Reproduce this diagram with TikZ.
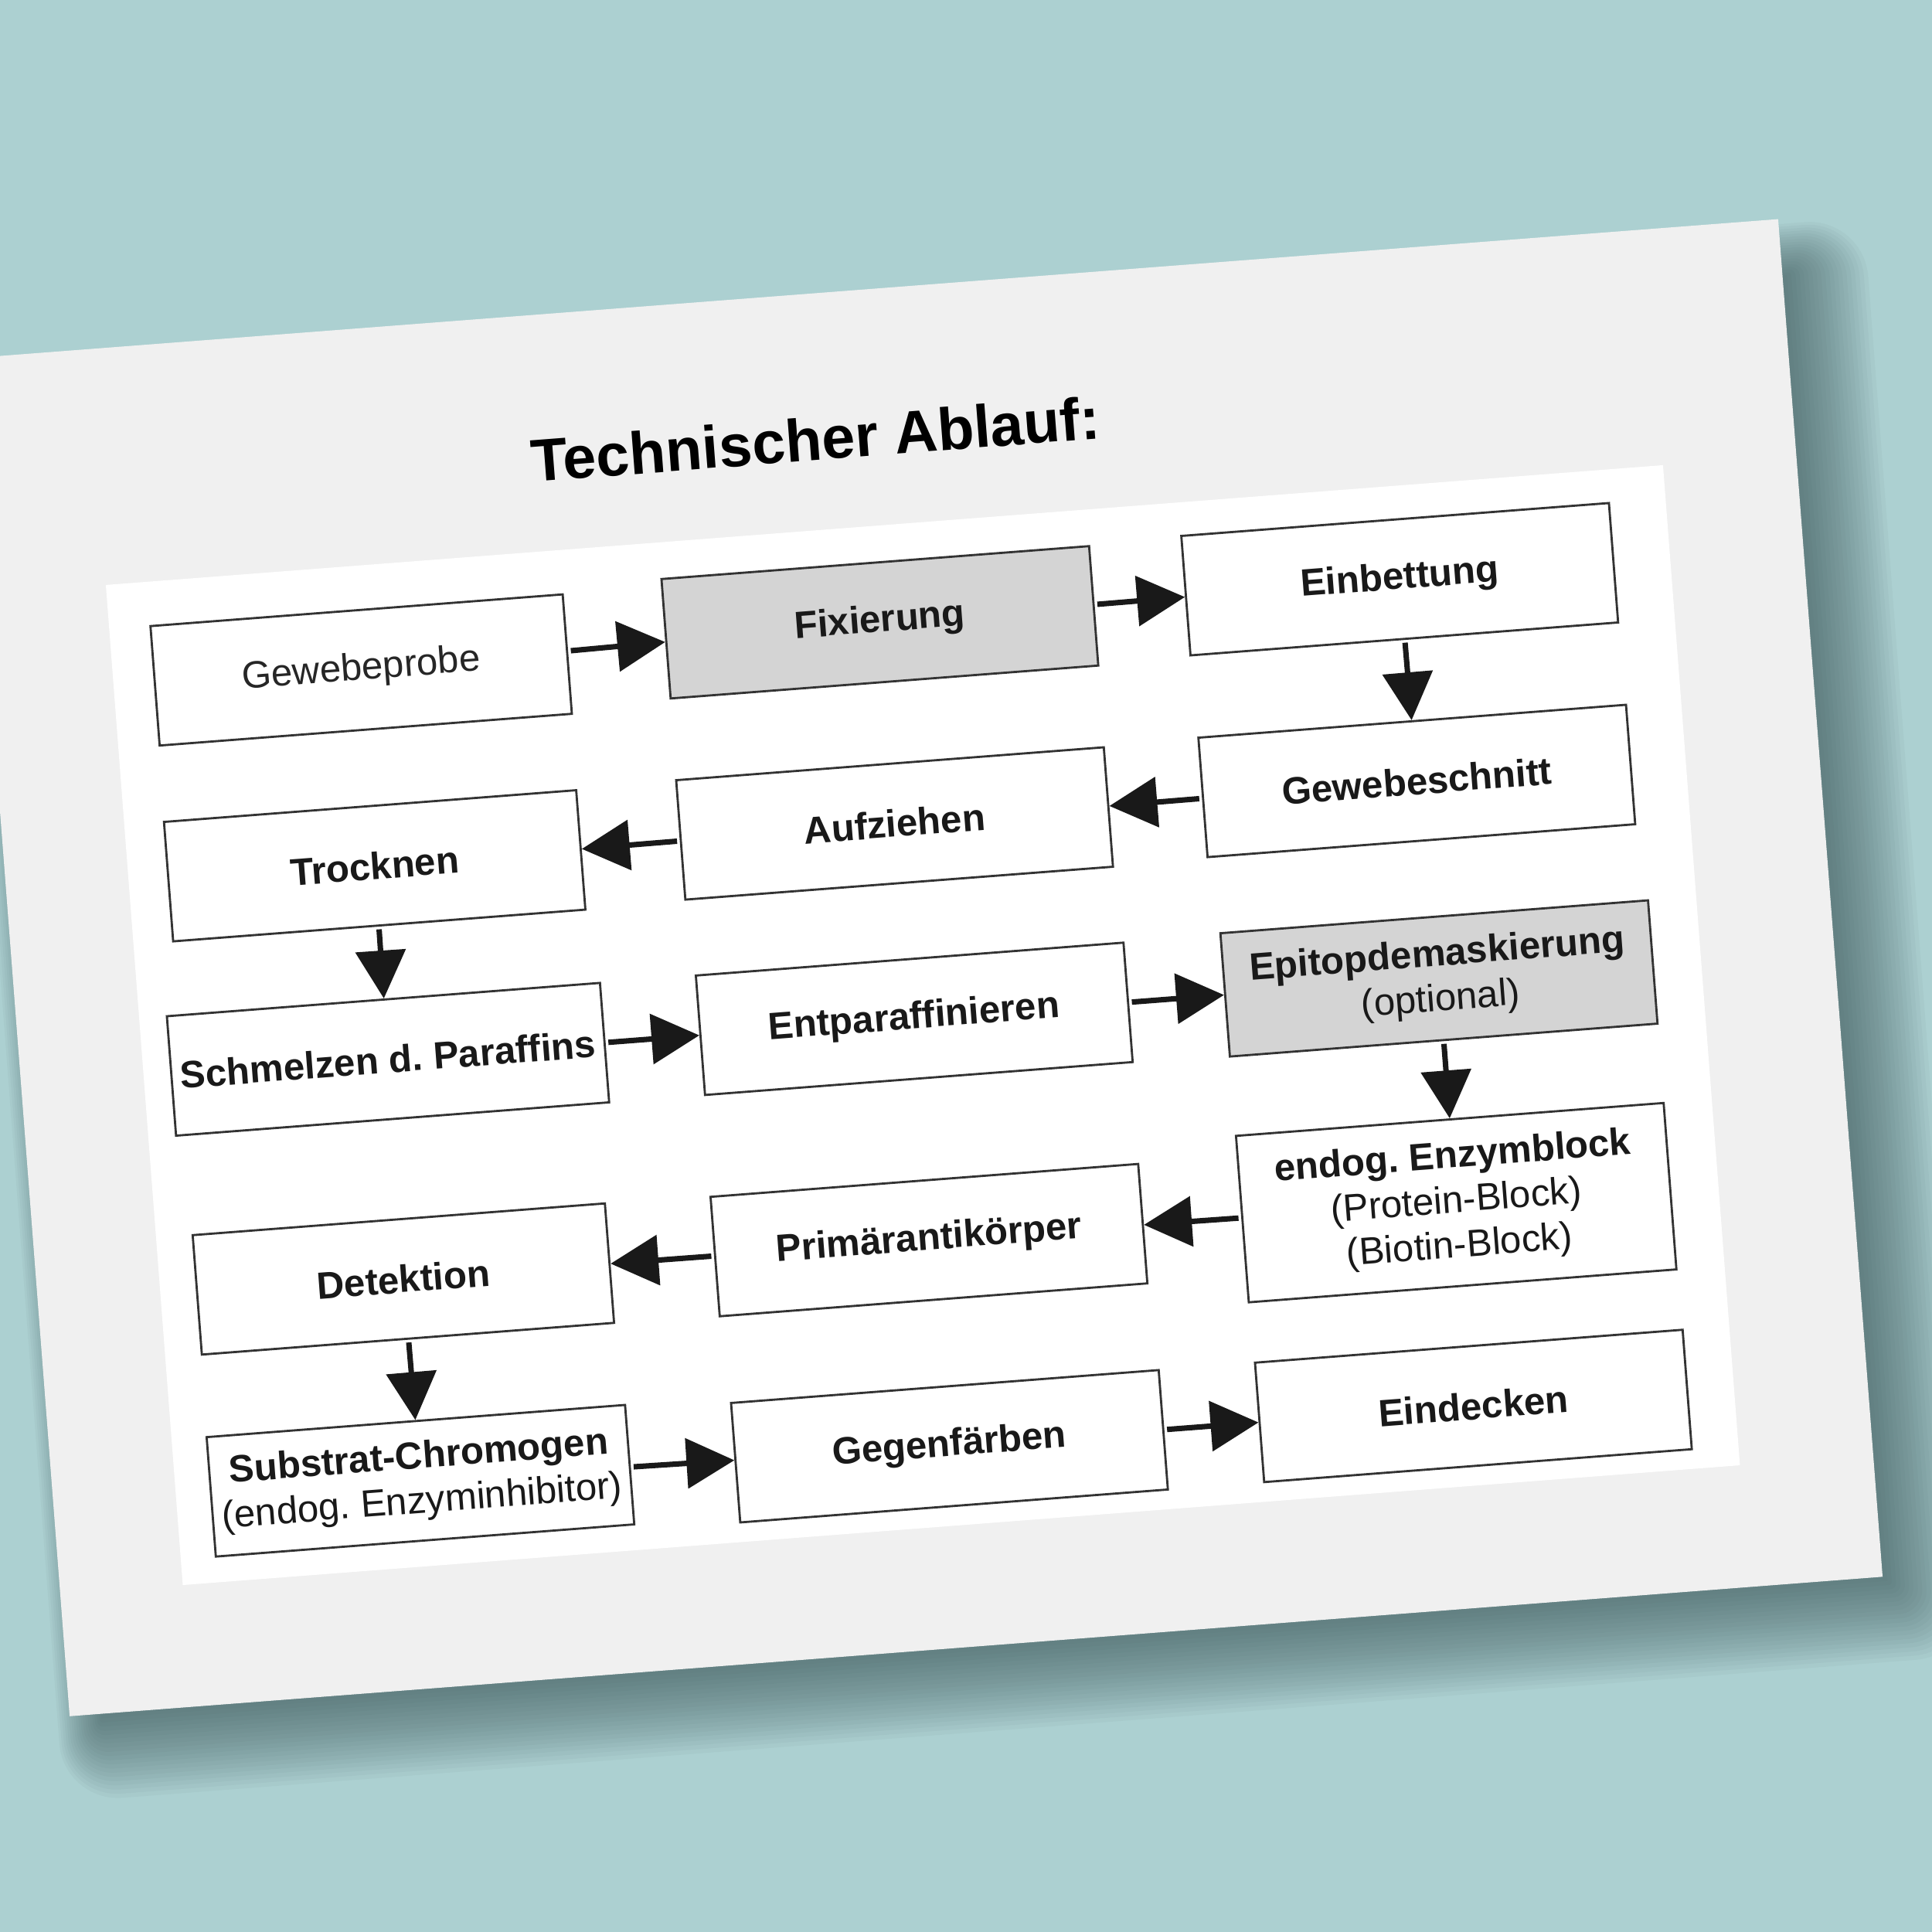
\documentclass[tikz,border=0pt]{standalone}
\usepackage{fontspec}
\setmainfont{Liberation Sans}
\usetikzlibrary{arrows.meta}
\definecolor{tealbg}{HTML}{ACD0D1}
\definecolor{slidegray}{HTML}{F0F0F0}
\definecolor{boxgray}{HTML}{D4D4D4}
\definecolor{shadowcol}{HTML}{3A5658}
\frenchspacing
\begin{document}
\begin{tikzpicture}[x=1cm,y=1cm,>={Triangle[length=0.62cm,width=0.64cm]},
  stepbox/.style={draw=black!80,fill=white,line width=0.8pt,minimum width=5.55cm,
    minimum height=1.55cm,align=center,text=black!90,transform shape,
    font=\fontsize{14}{16.5}\selectfont\bfseries},
  leftbox/.style={stepbox,minimum width=5.35cm},
  greybox/.style={fill=boxgray},
  flow/.style={->,line width=2pt,black!90,shorten <=1pt,shorten >=0pt}]
\useasboundingbox (-12.5,-12.5) rectangle (12.5,12.5);
\fill[tealbg] (-12.5,-12.5) rectangle (12.5,12.5);
\begin{scope}[rotate=4.4]
% soft shadow of the slide
\foreach \g in {0,...,19}
  \fill[shadowcol,opacity=0.045,rounded corners=\g*0.04cm]
    (-11.9-\g*0.03,-8.85-\g*0.055) rectangle (11.28+\g*0.055,8.1+\g*0.035);
\fill[slidegray] (-12.31,-8.79) rectangle (11.22,8.83);
\fill[white] (-10.72,-7.21) rectangle (9.49,5.77);
\node[font=\fontsize{22}{26}\selectfont\bfseries,transform shape] (titel) at (-1.42,6.95) {Technischer Ablauf:};
% row 1
\node[leftbox,font=\fontsize{14}{16}\selectfont,text=black!85] (gewebeprobe) at (-7.51,4.42) {Gewebeprobe};
\node[stepbox,greybox] (fixierung) at (-0.77,4.52) {Fixierung};
\node[stepbox] (einbettung) at (5.98,4.56) {Einbettung};
% row 2
\node[stepbox] (schnitt) at (6.00,1.94) {Gewebeschnitt};
\node[stepbox] (aufziehen) at (-0.78,1.91) {Aufziehen};
\node[leftbox] (trocknen) at (-7.53,1.88) {Trocknen};
% row 3
\node[leftbox] (schmelzen) at (-7.55,-0.63) {Schmelzen d. Paraffins};
\node[stepbox] (entparaff) at (-0.72,-0.63) {Entparaffinieren};
\node[stepbox,greybox,minimum height=1.6cm] (epitop) at (6.09,-0.63) {Epitopdemaskierung\\\mdseries(optional)};
% row 4
\node[stepbox,minimum height=2.16cm] (enzymblock) at (6.09,-3.54) {endog. Enzymblock\\\mdseries(Protein-Block)\\\mdseries(Biotin-Block)};
\node[stepbox] (primaer) at (-0.75,-3.50) {Primärantikörper};
\node[leftbox] (detektion) at (-7.57,-3.48) {Detektion};
% row 5
\node[leftbox] (substrat) at (-7.55,-6.10) {Substrat-Chromogen\\\mdseries(endog. Enzyminhibitor)};
\node[stepbox] (gegenfaerben) at (-0.69,-6.18) {Gegenfärben};
\node[stepbox] (eindecken) at (6.11,-6.18) {Eindecken};
% arrows
\draw[flow] (gewebeprobe) -- (fixierung);
\draw[flow] (fixierung) -- (einbettung);
\draw[flow] (einbettung) -- (schnitt);
\draw[flow] (schnitt) -- (aufziehen);
\draw[flow] (aufziehen) -- (trocknen);
\draw[flow] (trocknen) -- (schmelzen);
\draw[flow] (schmelzen) -- (entparaff);
\draw[flow] (entparaff) -- (epitop);
\draw[flow] (epitop) -- (enzymblock);
\draw[flow] (enzymblock) -- (primaer);
\draw[flow] (primaer) -- (detektion);
\draw[flow] (detektion) -- (substrat);
\draw[flow] (substrat) -- (gegenfaerben);
\draw[flow] (gegenfaerben) -- (eindecken);
\end{scope}
\end{tikzpicture}
\end{document}
